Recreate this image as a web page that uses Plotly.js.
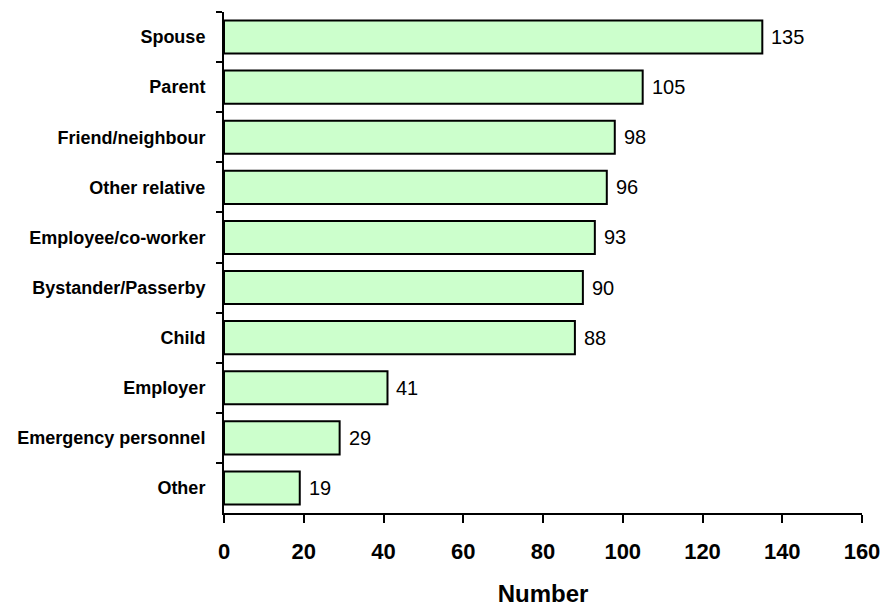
<!DOCTYPE html>
<html>
<head>
<meta charset="utf-8">
<script src="https://cdn.plot.ly/plotly-3.0.1.min.js"></script>
<style>
  html, body { margin: 0; padding: 0; background: #ffffff; }
  #chart { width: 892px; height: 608px; }
</style>
</head>
<body>
<div id="chart"></div>
<script>
// Who the respondents were, listed top to bottom
const categories = [
  'Spouse', 'Parent', 'Friend/neighbour', 'Other relative', 'Employee/co-worker',
  'Bystander/Passerby', 'Child', 'Employer', 'Emergency personnel', 'Other'
];
const counts = [135, 105, 98, 96, 93, 90, 88, 41, 29, 19];
const xTickValues = [0, 20, 40, 60, 80, 100, 120, 140, 160];

const FONT = 'Arial, "Liberation Sans", sans-serif';

const bars = {
  type: 'bar',
  orientation: 'h',
  x: counts,
  y: categories,
  width: 0.66,
  marker: { color: '#CCFFCC', line: { color: '#000000', width: 2 } },
  hoverinfo: 'skip'
};

// Value labels just to the right of each bar end
const valueLabels = counts.map((v, i) => ({
  x: v,
  y: categories[i],
  xref: 'x',
  yref: 'y',
  text: String(v),
  showarrow: false,
  xanchor: 'left',
  yanchor: 'middle',
  xshift: 7,
  font: { family: FONT, size: 20, color: '#000000' }
}));

const layout = {
  width: 892,
  height: 608,
  margin: { l: 224, r: 30, t: 12, b: 95 },
  paper_bgcolor: '#ffffff',
  plot_bgcolor: '#ffffff',
  showlegend: false,
  font: { family: FONT, color: '#000000' },
  xaxis: {
    range: [0, 160],
    tickvals: xTickValues,
    ticktext: xTickValues.map(String),
    ticks: 'outside',
    ticklen: 8,
    tickwidth: 2,
    tickcolor: '#000000',
    showline: true,
    linecolor: '#000000',
    linewidth: 2,
    showgrid: false,
    zeroline: false,
    ticklabelstandoff: 10,
    tickfont: { family: FONT, size: 22, color: '#000000', weight: 'bold' },
    title: {
      text: '<b>Number</b>',
      font: { family: FONT, size: 24, color: '#000000' },
      standoff: 22
    }
  },
  yaxis: {
    type: 'category',
    categoryorder: 'array',
    categoryarray: categories,
    range: [9.5, -0.5],
    tickson: 'boundaries',
    ticks: 'outside',
    ticklen: 6,
    tickwidth: 2,
    tickcolor: '#000000',
    showline: true,
    linecolor: '#000000',
    linewidth: 2,
    showgrid: false,
    zeroline: false,
    ticklabelstandoff: 13,
    tickfont: { family: FONT, size: 18, color: '#000000', weight: 'bold' }
  },
  annotations: valueLabels
};

Plotly.newPlot('chart', [bars], layout, { staticPlot: true, displayModeBar: false });
</script>
</body>
</html>
